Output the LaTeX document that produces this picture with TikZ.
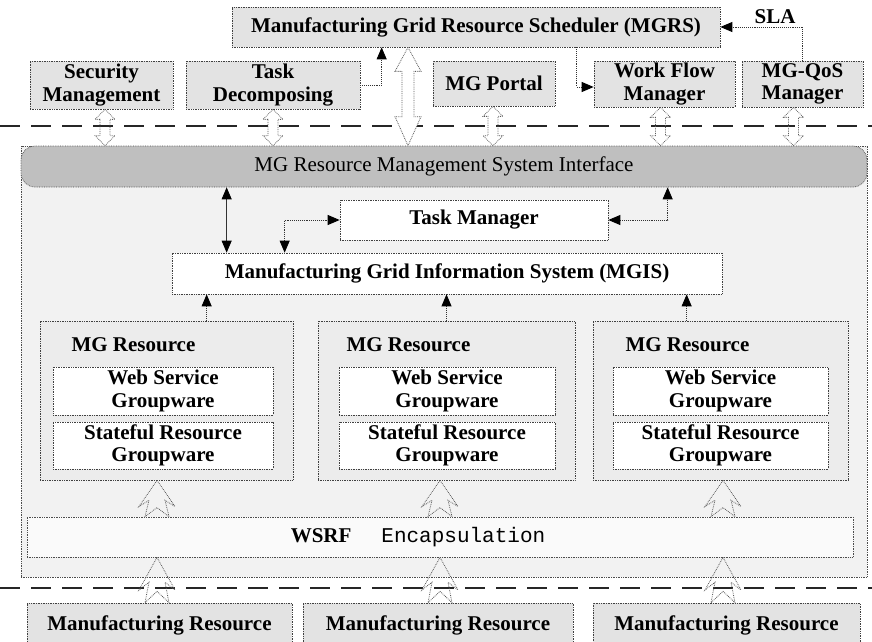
\documentclass[tikz,border=0pt]{standalone}
\usepackage{fontspec}
\setmainfont{Liberation Serif}
\setmonofont{Liberation Mono}
\usetikzlibrary{arrows.meta,calc}

% hollow vertical double arrow: top tip, bottom tip, half shaft, half head, head length
\newcommand\hdouble[5]{%
  \draw[hollow] let \p1=#1, \p2=#2 in
    (\x1,\y1) -- (\x1+#4,\y1-#5) -- (\x1+#3,\y1-#5) -- (\x1+#3,\y2+#5)
    -- (\x1+#4,\y2+#5) -- (\x1,\y2) -- (\x1-#4,\y2+#5) -- (\x1-#3,\y2+#5)
    -- (\x1-#3,\y1-#5) -- (\x1-#4,\y1-#5) -- cycle;}

% notched hollow up arrow: tip point, foot point
\newcommand\hup[2]{%
  \draw[hollow] let \p1=#1, \p2=#2, \n1={\y1-\y2} in
    (\x1,\y1) -- (\x1+18pt,\y1-0.72*\n1) -- (\x1+8pt,\y1-0.55*\n1)
    -- (\x1+12pt,\y2) -- (\x1,\y2+0.25*\n1) -- (\x1-12pt,\y2)
    -- (\x1-8pt,\y1-0.55*\n1) -- (\x1-18pt,\y1-0.72*\n1) -- cycle;}

\begin{document}
\begin{tikzpicture}[x=1pt,y=-1pt,
  txt/.style={font=\bfseries\fontsize{21}{22.5}\selectfont, align=center},
  bx/.style={draw=black!75, densely dotted, line width=0.7pt, inner sep=0pt, txt},
  topbox/.style={bx, fill=gray!22},
  whitebox/.style={bx, fill=white},
  resbox/.style={bx, fill=gray!15},
  hollow/.style={draw=black!65, densely dotted, line width=0.8pt},
  sepline/.style={line width=2.6pt, black!85, dash pattern=on 20pt off 11pt},
  conn/.style={densely dotted, line width=0.9pt, black!80},
  tip/.style={-{Triangle[length=12pt,width=10pt,black]}},
  tips/.style={{Triangle[length=12pt,width=10pt,black]}-{Triangle[length=12pt,width=10pt,black]}}]

\clip (0,0) rectangle (872,641);
\fill[white] (0,0) rectangle (872,641);

% ---- upper layer: scheduler and services
\node[topbox, minimum width=488, minimum height=40] (mgrs) at (476,27)
  {Manufacturing Grid Resource Scheduler (MGRS)};
\node[topbox, minimum width=143, minimum height=48] (sec) at (101.5,85) {Security\\Management};
\node[topbox, minimum width=174, minimum height=48] (task) at (273,85) {Task\\Decomposing};
\node[topbox, minimum width=122, minimum height=45] (portal) at (494,83.5) {MG Portal};
\node[topbox, minimum width=141, minimum height=46] (wfm) at (664.5,84) {Work Flow\\Manager};
\node[topbox, minimum width=121, minimum height=46] (qos) at (802.5,84) {MG-QoS\\Manager};
\node[txt] (sla) at (775,17) {SLA};

\draw[conn,tip] (task.east) -| ($(mgrs.south west)+(150,0)$);
\draw[conn,tip] ($(mgrs.south west)+(345,0)$) |- ($(wfm.west)+(0,3)$);
\draw[conn,tip] (qos.north) |- (mgrs.east);

% ---- separators
\draw[sepline] (0,126) -- (872,126);
\draw[sepline] (0,588) -- (872,588);

% ---- resource management system
\node[draw=black!70, densely dotted, line width=0.7pt, fill=gray!10,
      minimum width=846, minimum height=431, inner sep=0pt] (sys) at (444,361.5) {};
\node[draw=black!70, densely dotted, line width=0.7pt, fill=gray!50, rounded corners=14pt,
      minimum width=846, minimum height=41, inner sep=0pt,
      font=\fontsize{21}{22.5}\selectfont] (iface) at (444,166.5)
  {MG Resource Management System Interface};

\node[whitebox, minimum width=268, minimum height=40] (tm) at (474,220) {Task Manager};
\node[whitebox, minimum width=550, minimum height=41] (mgis) at (447,273.5)
  {Manufacturing Grid Information System (MGIS)};

\coordinate (a1) at ($(mgis.north west)+(55,0)$);
\coordinate (a2) at ($(mgis.north west)+(113,0)$);
\coordinate (a3) at ($(iface.south west)+(647,0)$);
\draw[line width=0.8pt, black!80, tips] (a1) -- (a1 |- iface.south);
\draw[conn,tips] (a2) |- (tm.west);
\draw[conn,tips] (tm.east) -| (a3);

% ---- MG resources
\foreach \n/\cx/\w/\lx/\ix/\iw in {1/166.5/253/68/163/220, 2/446.5/257/343/447/216, 3/720.5/255/622/720.5/215}{
  \node[resbox, minimum width=\w, minimum height=159] (mgr\n) at (\cx,400.5) {};
  \node[txt, anchor=west] (lab\n) at (\lx,345) {MG Resource};
  \node[whitebox, minimum width=\iw, minimum height=48] (ws\n) at (\ix,391) {Web Service\\Groupware};
  \node[whitebox, minimum width=\iw, minimum height=47] (sr\n) at (\ix,445.5) {Stateful Resource\\Groupware};
}
\coordinate (m1) at ($(mgr1.north west)+(167,0)$);
\coordinate (m2) at (mgr2.north);
\coordinate (m3) at ($(mgr3.north west)+(94,0)$);
\foreach \k in {1,2,3}{
  \draw[conn,tip] (m\k) -- (m\k |- mgis.south);
}

% ---- WSRF layer
\node[draw=black!70, densely dotted, line width=0.7pt, fill=gray!4,
      minimum width=826, minimum height=40, inner sep=0pt] (wsrf) at (440,537) {};
\node[font=\fontsize{21}{22.5}\selectfont] (wsrftxt) at (418,537)
  {\textbf{WSRF}\hspace{30pt}\texttt{Encapsulation}};

% ---- manufacturing resources
\node[topbox, minimum width=265, minimum height=44] (mr1) at (159.5,625) {Manufacturing Resource};
\node[topbox, minimum width=270, minimum height=44] (mr2) at (438,625) {Manufacturing Resource};
\node[topbox, minimum width=267, minimum height=44] (mr3) at (726.5,625) {Manufacturing Resource};

% ---- interface links through the upper separator
\coordinate (bx) at (408,0);
\draw[hollow, fill=white] let \p1=(bx |- mgrs.south), \p2=(bx |- iface.north) in
  (\x1,\y1) -- (\x1+13pt,\y1-24pt) -- (\x1+6pt,\y1-24pt) -- (\x1+6pt,\y2+29pt)
  -- (\x1+13pt,\y2+29pt) -- (\x1,\y2) -- (\x1-13pt,\y2+29pt) -- (\x1-6pt,\y2+29pt)
  -- (\x1-6pt,\y1-24pt) -- (\x1-13pt,\y1-24pt) -- cycle;
\coordinate (s1) at ($(sec.south)+(3.5,0)$);
\coordinate (s2) at (task.south);
\coordinate (s3) at ($(portal.south)+(-1,0)$);
\coordinate (s4) at ($(wfm.south)+(-4,0)$);
\coordinate (s5) at ($(qos.south)+(-9,0)$);
\foreach \k in {1,...,5}{
  \hdouble{(s\k)}{(s\k |- iface.north)}{5pt}{10pt}{10pt}
}

% ---- encapsulation links
\foreach \k/\ax in {1/157,2/440,3/723}{
  \coordinate (ax\k) at (\ax,0);
  \coordinate (u\k) at (ax\k |- mgr\k.south);
  \coordinate (v\k) at (ax\k |- wsrf.north);
  \coordinate (p\k) at (ax\k |- wsrf.south);
  \coordinate (q\k) at (ax\k |- mr\k.north);
  \hup{(u\k)}{(v\k)}
  \hup{(p\k)}{(q\k)}
}
\end{tikzpicture}
\end{document}
